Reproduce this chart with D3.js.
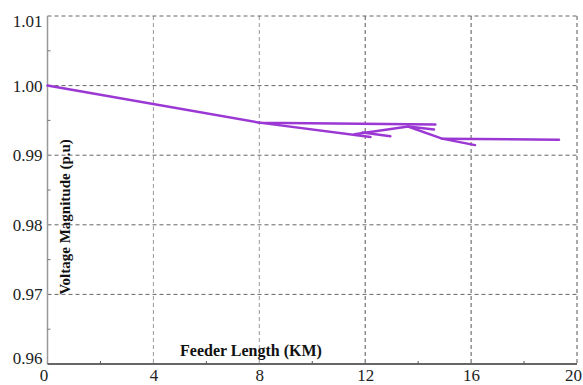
<!DOCTYPE html>
<html>
<head>
<meta charset="utf-8">
<script src="https://cdn.jsdelivr.net/npm/d3@7"></script>
<style>
  body { margin: 0; background: #fff; }
  svg { display: block; }
</style>
</head>
<body>
<script>
// feeder branches, [km, voltage p.u.]
var mainFeeder = [[0, 1.0000], [8, 0.99468], [14.65, 0.99440]];
var lateral1 = [[8, 0.99468], [12.2, 0.99260]];
var lateral2 = [[11.6, 0.99302], [13.62, 0.99411], [14.9, 0.99238], [16.15, 0.99145]];
var lateral3 = [[11.9, 0.99325], [12.95, 0.99272]];
var lateral4 = [[13.62, 0.99411], [14.6, 0.99368]];
var lateral5 = [[14.9, 0.99238], [19.32, 0.99222]];
var branches = [mainFeeder, lateral1, lateral2, lateral3, lateral4, lateral5];

var xTicks = [0, 4, 8, 12, 16, 20];
var xMinor = [2, 6, 10, 14, 18];
var yTicks = [0.96, 0.97, 0.98, 0.99, 1.00, 1.01];
var yMinor = [0.965, 0.975, 0.985, 0.995, 1.005];

var FONT = "'Liberation Serif'";

var W = 583, H = 385;
var svg = d3.select("body").append("svg")
   .attr("width", W)
   .attr("height", H);

var x = d3.scaleLinear().domain([0, 20]).range([47.5, 577]);
var y = d3.scaleLinear().domain([0.96, 1.01]).range([364, 16]);

// grid
svg.append("g").selectAll("line")
   .data(xTicks.slice(1))
   .enter().append("line")
   .attr("x1", function(d){ return x(d); })
   .attr("x2", function(d){ return x(d); })
   .attr("y1", y(1.01)).attr("y2", y(0.96))
   .attr("stroke", function(d, i){ return i < 2 ? "#999" : "#555"; })
   .attr("stroke-width", 1)
   .attr("stroke-dasharray", "4,3");

svg.append("g").selectAll("line")
   .data(yTicks.slice(1))
   .enter().append("line")
   .attr("x1", x(0)).attr("x2", x(20))
   .attr("y1", function(d){ return y(d); })
   .attr("y2", function(d){ return y(d); })
   .attr("stroke", "#666")
   .attr("stroke-width", 1)
   .attr("stroke-dasharray", "4,3");

// axes lines
svg.append("line")
   .attr("x1", x(0)).attr("x2", x(0))
   .attr("y1", y(1.01)).attr("y2", y(0.96))
   .attr("stroke", "#999").attr("stroke-width", 1.5);
svg.append("line")
   .attr("x1", x(0)).attr("x2", x(20))
   .attr("y1", y(0.96)).attr("y2", y(0.96))
   .attr("stroke", "#333").attr("stroke-width", 1.5);

// minor ticks
svg.append("g").selectAll("line")
   .data(xMinor).enter().append("line")
   .attr("x1", function(d){ return x(d); })
   .attr("x2", function(d){ return x(d); })
   .attr("y1", y(0.96)).attr("y2", y(0.96) - 3)
   .attr("stroke", "#555");
svg.append("g").selectAll("line")
   .data(yMinor).enter().append("line")
   .attr("x1", x(0)).attr("x2", x(0) + 3)
   .attr("y1", function(d){ return y(d); })
   .attr("y2", function(d){ return y(d); })
   .attr("stroke", "#777");

// tick labels
var xAxis = d3.axisBottom(x).tickValues(xTicks).tickSize(0).tickPadding(5)
   .tickFormat(d3.format("d"));
var gx = svg.append("g").attr("transform", "translate(0," + y(0.96) + ")").call(xAxis);
gx.select(".domain").remove();
gx.selectAll("text")
   .style("font-family", FONT)
   .attr("font-size", 17).attr("fill", "#222");
gx.selectAll(".tick").filter(function(d){ return d === 0; })
   .select("text").attr("dx", -4);
gx.selectAll(".tick").filter(function(d){ return d === 20; })
   .select("text").attr("dx", -4);

var yAxis = d3.axisLeft(y).tickValues(yTicks).tickSize(0).tickPadding(5)
   .tickFormat(d3.format(".2f"));
var gy = svg.append("g").attr("transform", "translate(" + x(0) + ",0)").call(yAxis);
gy.select(".domain").remove();
gy.selectAll("text")
   .style("font-family", FONT)
   .attr("font-size", 17).attr("fill", "#222");
// end labels pulled inward
gy.selectAll(".tick").filter(function(d){ return d === 0.96; })
   .select("text").attr("y", -6);
gy.selectAll(".tick").filter(function(d){ return d === 1.01; })
   .select("text").attr("y", 5);

// data lines
var line = d3.line()
   .x(function(d){ return x(d[0]); })
   .y(function(d){ return y(d[1]); });

svg.append("g").selectAll("path")
   .data(branches).enter().append("path")
   .attr("d", line)
   .attr("fill", "none")
   .attr("stroke", "#9b38d4")
   .attr("stroke-width", 2.5)
   .attr("stroke-linecap", "round");

// axis titles
svg.append("text")
   .text("Feeder Length (KM)")
   .attr("x", 251).attr("y", 356)
   .attr("text-anchor", "middle")
   .style("font-family", FONT)
   .attr("font-weight", "bold")
   .attr("font-size", 16)
   .attr("fill", "#111");

svg.append("text")
   .text("Voltage Magnitude (p.u)")
   .attr("transform", "translate(70,217) rotate(-90)")
   .attr("text-anchor", "middle")
   .style("font-family", FONT)
   .attr("font-weight", "bold")
   .attr("font-size", 15)
   .attr("fill", "#111");
</script>
</body>
</html>
